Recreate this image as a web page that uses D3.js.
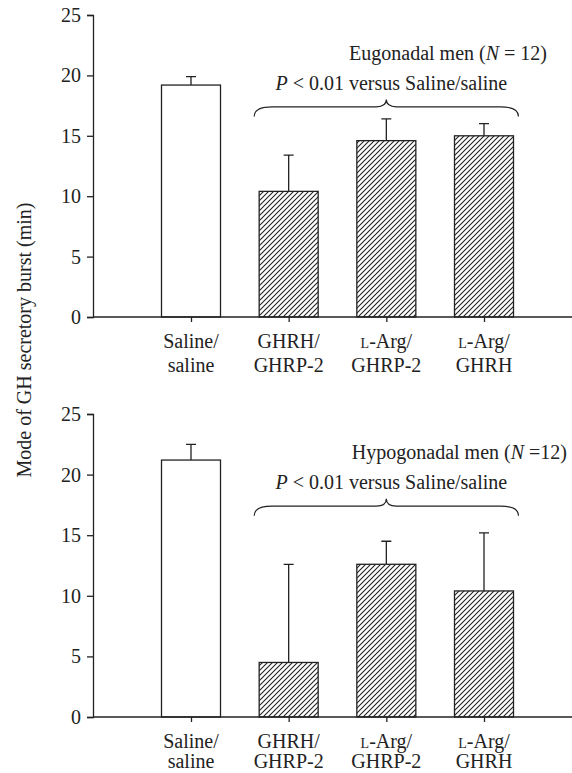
<!DOCTYPE html>
<html>
<head>
<meta charset="utf-8">
<script src="https://cdn.jsdelivr.net/npm/d3@7"></script>
<style>
  body { margin: 0; background: #fff; }
  text { font-family: "Liberation Serif", "DejaVu Serif", serif; fill: #222; }
</style>
</head>
<body>
<svg id="chart" width="572" height="773"></svg>
<script>
var categories = ["Saline/saline", "GHRH/GHRP-2", "L-Arg/GHRP-2", "L-Arg/GHRH"];
var labelLines = [["Saline/", "saline"], ["GHRH/", "GHRP-2"], ["L-Arg/", "GHRP-2"], ["L-Arg/", "GHRH"]];
var hatched = [false, true, true, true];

var eugonadalMean = [19.2, 10.4, 14.6, 15.0];
var eugonadalErr  = [19.9, 13.4, 16.4, 16.0];
var hypogonadalMean = [21.2, 4.5, 12.6, 10.4];
var hypogonadalErr  = [22.5, 12.6, 14.5, 15.2];

var yTicks = [0, 5, 10, 15, 20, 25];

var svg = d3.select("#chart");

var defs = svg.append("defs");
var pat = defs.append("pattern")
    .attr("id", "hatch")
    .attr("patternUnits", "userSpaceOnUse")
    .attr("width", 5).attr("height", 5);
pat.append("rect").attr("width", 5).attr("height", 5).attr("fill", "#fff");
pat.append("path")
    .attr("d", "M-1,1 l2,-2 M0,5 l5,-5 M4,6 l2,-2")
    .attr("stroke", "#222").attr("stroke-width", 1.1);

var x = d3.scalePoint()
    .domain(categories)
    .range([191, 484]);
var barW = 59;
var axisLeftX = 93;
var fs = 20;

var panels = [
  { mean: eugonadalMean, err: eugonadalErr, top: 15, bottom: 317,
    title: ["Eugonadal men (", "N", " = 12)"], titleX: 547, line2: 55 },
  { mean: hypogonadalMean, err: hypogonadalErr, top: 414, bottom: 717,
    title: ["Hypogonadal men (", "N", " =12)"], titleX: 567, line2: 51 }
];

panels.forEach(function(p) {
  var y = d3.scaleLinear().domain([0, 25]).range([p.bottom, p.top]);
  var g = svg.append("g");

  // bars
  g.selectAll(".bar")
    .data(categories)
    .enter().append("rect")
      .attr("x", function(d) { return x(d) - barW / 2; })
      .attr("y", function(d, i) { return y(p.mean[i]); })
      .attr("width", barW)
      .attr("height", function(d, i) { return y(0) - y(p.mean[i]); })
      .attr("fill", function(d, i) { return hatched[i] ? "url(#hatch)" : "#fff"; })
      .attr("stroke", "#222")
      .attr("stroke-width", 1.3);

  // error bars (upper only)
  g.selectAll(".err")
    .data(categories)
    .enter().append("path")
      .attr("d", function(d, i) {
        var cx = x(d), y0 = y(p.mean[i]), y1 = y(p.err[i]);
        return "M" + cx + "," + y0 + "V" + y1 + "M" + (cx - 5) + "," + y1 + "H" + (cx + 5);
      })
      .attr("stroke", "#222")
      .attr("stroke-width", 1.3)
      .attr("fill", "none");

  // y axis
  var yAxis = g.append("g")
      .attr("transform", "translate(" + axisLeftX + ",0)")
      .call(d3.axisLeft(y).tickValues(yTicks).tickSize(6).tickPadding(6));
  yAxis.selectAll("text").attr("font-size", fs).attr("font-family", "Liberation Serif");
  yAxis.selectAll("path, line").attr("stroke", "#222").attr("stroke-width", 1.3);

  // x axis
  var xAxis = g.append("g")
      .attr("transform", "translate(0," + y(0) + ")")
      .call(d3.axisBottom(x).tickSize(5).tickFormat(""));
  xAxis.select(".domain").remove();
  xAxis.selectAll("line").attr("stroke", "#222").attr("stroke-width", 1.3);
  g.append("line")
      .attr("x1", axisLeftX).attr("x2", 572)
      .attr("y1", y(0)).attr("y2", y(0))
      .attr("stroke", "#222").attr("stroke-width", 1.3);

  // category labels
  var lab = g.selectAll(".cat")
    .data(categories)
    .enter().append("text")
      .attr("text-anchor", "middle")
      .attr("font-size", fs);
  lab.each(function(d, i) {
    var t = d3.select(this);
    labelLines[i].forEach(function(line, j) {
      var ts = t.append("tspan")
          .attr("x", x(d))
          .attr("y", y(0) + (j === 0 ? 31 : p.line2));
      if (line.indexOf("L-") === 0) {
        ts.append("tspan").attr("font-size", 14).text("L");
        ts.append("tspan").text(line.slice(1));
      } else {
        ts.text(line);
      }
    });
  });

  // group title
  var title = g.append("text")
      .attr("x", p.titleX)
      .attr("y", y(21.3))
      .attr("text-anchor", "end")
      .attr("font-size", fs);
  title.append("tspan").text(p.title[0]);
  title.append("tspan").attr("font-style", "italic").text(p.title[1]);
  title.append("tspan").text(p.title[2]);

  // significance brace
  var x1 = x(categories[1]) - barW / 2 - 5,
      x2 = x(categories[3]) + barW / 2 + 5,
      xm = (x1 + x2) / 2,
      yb = y(16.6), yf = y(17.4), yp = y(18);
  g.append("path")
      .attr("d", "M" + x1 + "," + yb +
                 "Q" + x1 + "," + yf + " " + (x1 + 18) + "," + yf +
                 "L" + (xm - 10) + "," + yf +
                 "Q" + xm + "," + yf + " " + xm + "," + yp +
                 "Q" + xm + "," + yf + " " + (xm + 10) + "," + yf +
                 "L" + (x2 - 18) + "," + yf +
                 "Q" + x2 + "," + yf + " " + x2 + "," + yb)
      .attr("fill", "none")
      .attr("stroke", "#222")
      .attr("stroke-width", 1.2);

  var sig = g.append("text")
      .attr("x", xm + 5)
      .attr("y", y(18.8))
      .attr("text-anchor", "middle")
      .attr("font-size", fs);
  sig.append("tspan").attr("font-style", "italic").text("P");
  sig.append("tspan").text(" < 0.01 versus Saline/saline");
});

// shared y label
svg.append("text")
    .attr("transform", "translate(31,340) rotate(-90)")
    .attr("text-anchor", "middle")
    .attr("font-size", fs)
    .text("Mode of GH secretory burst (min)");
</script>
</body>
</html>
